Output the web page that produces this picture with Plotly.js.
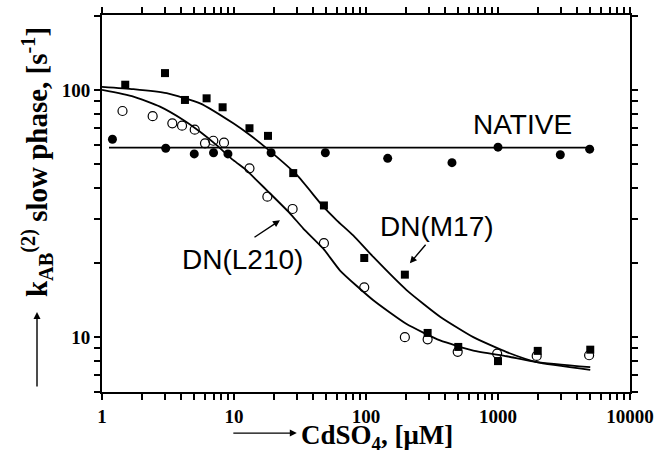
<!DOCTYPE html>
<html>
<head>
<meta charset="utf-8">
<script src="https://cdn.plot.ly/plotly-3.0.1.min.js"></script>
<style>html,body{margin:0;padding:0;background:#fff;}#chart{width:655px;height:468px;}</style>
</head>
<body>
<div id="chart"></div>
<script>
// ---- data ----
const m17X = [1.5, 3, 4.25, 6.2, 8.2, 13.1, 18.1, 28.1, 48, 97, 197, 293, 500, 1000, 2000, 5000];
const m17Y = [105, 117, 91.1, 92.5, 85.1, 70, 65.2, 46.1, 34.1, 20.9, 17.9, 10.4, 9.13, 8.0, 8.8, 8.9];

const l210X = [1.43, 2.42, 3.41, 4.04, 5.04, 6.03, 6.97, 8.4, 13.1, 17.9, 27.8, 48, 97, 197, 293, 495, 985, 1964, 4900];
const l210Y = [82.2, 78.3, 73.3, 71.7, 69.1, 60.8, 62.3, 61.2, 48.2, 37, 33, 24, 15.9, 10.0, 9.8, 8.72, 8.58, 8.4, 8.45];

const nativeX = [1.2, 3.04, 5.0, 7.0, 9.0, 19.1, 49.2, 146, 448, 1000, 2965, 4950];
const nativeY = [63.2, 58.1, 55.1, 55.7, 55.1, 55.7, 55.7, 52.9, 50.8, 58.7, 54.7, 57.6];

const nativeLineX = [1.13, 5000];
const nativeLineY = [58.4, 58.4];

const m17FitX = [1, 1.73, 3.09, 5.53, 9.88, 13.2, 17.7, 29.9, 47.5, 60, 80, 113.6, 203, 364, 650, 1164, 1964, 5000];
const m17FitY = [103, 100.7, 97, 88.3, 73.3, 65.7, 58.0, 45.3, 33.7, 29.7, 25.8, 21.1, 15.5, 12.1, 10.0, 8.7, 7.93, 7.38];

const l210FitX = [1, 1.73, 2.75, 4.13, 5.53, 7.38, 9.88, 12.4, 14.8, 18.7, 26.5, 33.5, 47.5, 63.6, 113.6, 203, 364, 650, 1164, 1964, 5000];
const l210FitY = [100, 94, 85.6, 75.6, 67.7, 59.8, 52.0, 47.4, 43.2, 38.2, 31.7, 27.5, 22.8, 18.6, 14.1, 11.3, 9.7, 8.83, 8.37, 7.93, 7.56];

const xTickVals = [1, 10, 100, 1000, 10000];
const xTickText = ["1", "10", "100", "1000", "10000"];
const xMinorVals = [2,3,4,5,6,7,8,9,20,30,40,50,60,70,80,90,200,300,400,500,600,700,800,900,2000,3000,4000,5000,6000,7000,8000,9000];
const yTickVals = [10, 100];
const yTickText = ["10", "100"];
const yMinorVals = [6,7,8,9,20,30,40,50,60,70,80,90,200];

const labels = [
  {text: "NATIVE", x: 1520, y: 72.8},
  {text: "DN(M17)", x: 345, y: 28.1},
  {text: "DN(L210)", x: 11.5, y: 20.7}
];
const pointers = [
  {x: 22.3, y: 29.7, ax: -27, ay: 18},
  {x: 215, y: 19.9, ax: 17, ay: -20}
];

const xRange = [0, 4];
const yRange = [Math.log10(6), Math.log10(201)];

// major + minor tick positions on one axis (minor ones unlabeled)
const xAllVals = xTickVals.concat(xMinorVals);
const xAllText = xTickText.concat(xMinorVals.map(() => ""));
const yAllVals = yTickVals.concat(yMinorVals);
const yAllText = yTickText.concat(yMinorVals.map(() => ""));

// ---- traces ----
const lineStyle = {color: "#000", width: 1.8};
const traces = [
  {x: nativeLineX, y: nativeLineY, mode: "lines", line: lineStyle, hoverinfo: "skip"},
  {x: m17FitX, y: m17FitY, mode: "lines", line: Object.assign({shape: "spline", smoothing: 0.5}, lineStyle)},
  {x: l210FitX, y: l210FitY, mode: "lines", line: Object.assign({shape: "spline", smoothing: 0.5}, lineStyle)},
  {x: nativeX, y: nativeY, mode: "markers", marker: {symbol: "circle", size: 9, color: "#000"}},
  {x: m17X, y: m17Y, mode: "markers", marker: {symbol: "square", size: 8, color: "#000"}},
  {x: l210X, y: l210Y, mode: "markers", marker: {symbol: "circle-open", size: 9, color: "#000", line: {width: 1.2, color: "#000"}}}
];

const serifBold = {family: "Liberation Serif, Times New Roman, serif", size: 19, color: "#000", weight: "bold"};

const annotations = [];
labels.forEach(l => annotations.push({
  xref: "x", yref: "y", x: Math.log10(l.x), y: Math.log10(l.y), text: l.text, showarrow: false,
  xanchor: "center", yanchor: "middle",
  font: {family: "Liberation Sans, Arial, sans-serif", size: 28, color: "#000"}
}));
pointers.forEach(p => annotations.push({
  xref: "x", yref: "y", x: Math.log10(p.x), y: Math.log10(p.y), text: "", showarrow: true,
  ax: p.ax, ay: p.ay, arrowhead: 2, arrowsize: 1, arrowwidth: 1.4, arrowcolor: "#000"
}));
// axis-title arrows and titles
annotations.push({xref: "paper", yref: "paper", x: -0.1231, y: 0.212, text: "", showarrow: true,
  ax: 0, ay: 76, arrowhead: 2, arrowsize: 1, arrowwidth: 1.4, arrowcolor: "#000"});
annotations.push({xref: "paper", yref: "paper", x: 0.369, y: -0.109, text: "", showarrow: true,
  ax: -65, ay: 0, arrowhead: 2, arrowsize: 1, arrowwidth: 1.4, arrowcolor: "#000"});
annotations.push({xref: "paper", yref: "paper", x: -0.123, y: 0.61, textangle: -90, showarrow: false,
  xanchor: "center", yanchor: "middle",
  text: "k<sub>AB</sub><sup>(2)</sup> slow phase, [s<sup>-1</sup>]",
  font: {family: "Liberation Serif, Times New Roman, serif", size: 29, color: "#000", weight: "bold"}});
annotations.push({xref: "paper", yref: "paper", x: 0.373, y: -0.12, showarrow: false,
  xanchor: "left", yanchor: "middle",
  text: "CdSO<sub>4</sub>, [μM]",
  font: {family: "Liberation Serif, Times New Roman, serif", size: 27, color: "#000", weight: "bold"}});

const layout = {
  width: 655, height: 468,
  margin: {l: 102, r: 25, t: 15, b: 76},
  paper_bgcolor: "#fff", plot_bgcolor: "#fff",
  showlegend: false,
  xaxis: {
    type: "log", range: xRange, showgrid: false, zeroline: false,
    showline: true, linewidth: 2, linecolor: "#000", mirror: "ticks",
    ticks: "outside", ticklen: 6, tickwidth: 2, tickcolor: "#000",
    tickmode: "array", tickvals: xAllVals, ticktext: xAllText, tickfont: serifBold
  },
  yaxis: {
    type: "log", range: yRange, showgrid: false, zeroline: false,
    showline: true, linewidth: 2, linecolor: "#000", mirror: "ticks",
    ticks: "outside", ticklen: 6, tickwidth: 2, tickcolor: "#000",
    tickmode: "array", tickvals: yAllVals, ticktext: yAllText, tickfont: serifBold
  },
  annotations: annotations
};

Plotly.newPlot("chart", traces, layout, {staticPlot: true, displayModeBar: false});
</script>
</body>
</html>
